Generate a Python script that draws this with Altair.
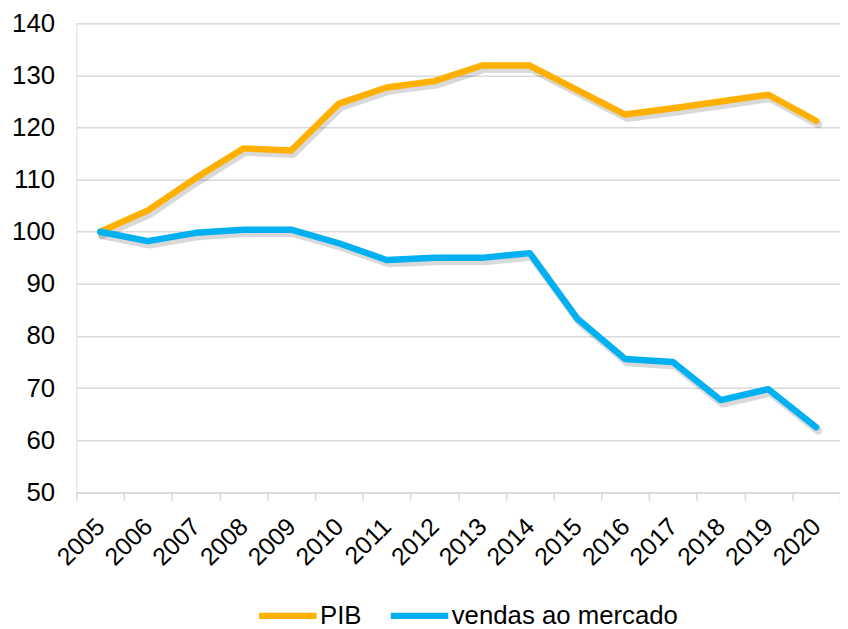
import altair as alt
import pandas as pd

years = [str(y) for y in range(2005, 2021)]
pib = [100, 104.1, 110.3, 116.0, 115.6, 124.6, 127.7, 128.9, 131.9, 131.9,
       127.2, 122.5, 123.7, 125.0, 126.3, 121.3]
vendas = [100, 98.2, 99.8, 100.4, 100.4, 97.8, 94.6, 95.0, 95.0, 95.9,
          83.3, 75.6, 75.0, 67.7, 69.8, 62.5]
series_names = ["PIB", "vendas ao mercado"]
series_colors = ["#FFB000", "#00B0F0"]
y_ticks = list(range(50, 141, 10))

df = pd.DataFrame({
    "ano": years * 2,
    "valor": pib + vendas,
    "serie": [series_names[0]] * len(years) + [series_names[1]] * len(years),
})

FONT = "Liberation Sans"

x_enc = alt.X(
    "ano:O",
    sort=years,
    scale=alt.Scale(type="band", paddingInner=0, paddingOuter=0),
    axis=alt.Axis(
        title=None,
        labelAngle=-45,
        labelAlign="right",
        labelBaseline="middle",
        labelFontSize=25,
        labelFont=FONT,
        labelColor="#000000",
        labelPadding=22,
        tickBand="extent",
        tickSize=8,
        tickColor="#d9d9d9",
        tickWidth=1.5,
        domainColor="#d9d9d9",
        domainWidth=1.5,
        grid=False,
    ),
)

y_enc = alt.Y(
    "valor:Q",
    scale=alt.Scale(domain=[50, 140], nice=False, zero=False),
    axis=alt.Axis(
        title=None,
        values=y_ticks,
        labelFontSize=26,
        labelFont=FONT,
        labelColor="#000000",
        labelPadding=22,
        ticks=False,
        tickSize=0,
        domain=False,
        grid=True,
        gridColor="#d9d9d9",
        gridWidth=1.5,
    ),
)

shadow = alt.Chart(df).mark_line(
    strokeWidth=8, strokeCap="round", strokeJoin="round",
    color="#000000", opacity=0.15, xOffset=2, yOffset=3.5,
).encode(x=x_enc, y=y_enc, detail="serie:N")

lines = alt.Chart(df).mark_line(
    strokeWidth=6.5, strokeCap="round", strokeJoin="round",
).encode(
    x=x_enc,
    y=y_enc,
    color=alt.Color(
        "serie:N",
        scale=alt.Scale(domain=series_names, range=series_colors),
        legend=alt.Legend(
            title=None,
            orient="none",
            direction="horizontal",
            legendX=181,
            legendY=565.5,
            symbolType="stroke",
            symbolSize=3364,
            symbolStrokeWidth=6.5,
            labelFontSize=26,
            labelFont=FONT,
            labelColor="#000000",
            labelOffset=0,
            labelLimit=400,
            columnPadding=16,
        ),
    ),
)

chart = alt.layer(shadow, lines).properties(
    width=771,
    height=473.5,
    autosize=alt.AutoSizeParams(type="none"),
    padding={"left": 69, "top": 12.5, "right": 0, "bottom": 135},
).configure_view(stroke=None).configure(background="white")

chart.save("out.html", embed_options={"renderer": "svg", "actions": False})
